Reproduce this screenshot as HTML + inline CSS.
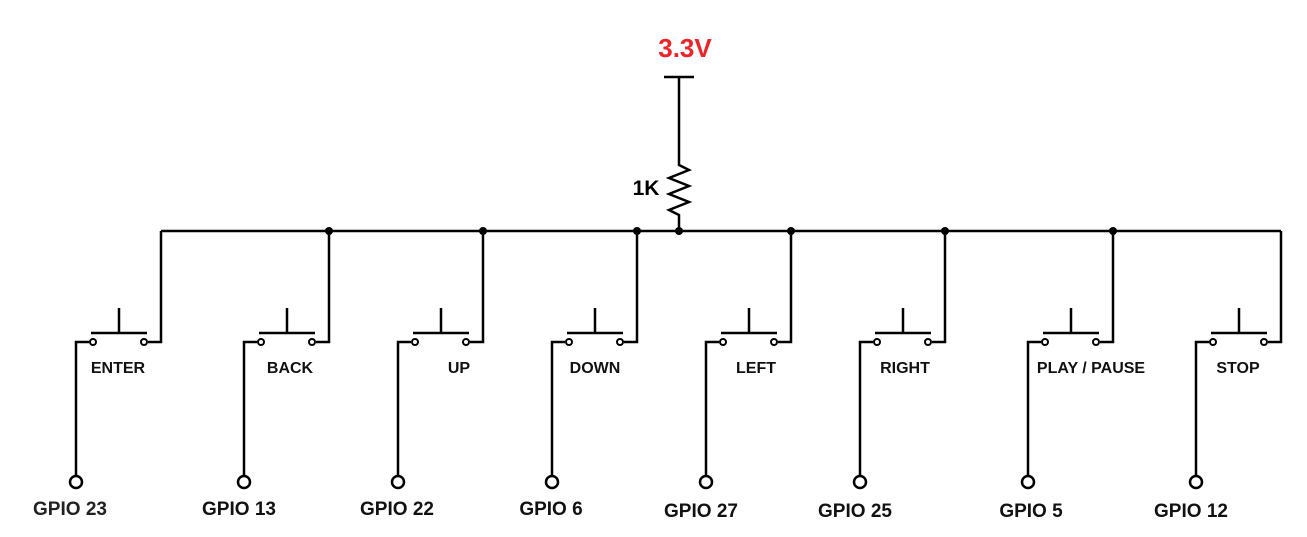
<!DOCTYPE html>
<html><head><style>
html,body{margin:0;padding:0;background:#fff;}
svg{display:block;}
text{font-family:"Liberation Sans",Arial,sans-serif;font-weight:bold;}
</style></head><body>
<svg width="1307" height="537" viewBox="0 0 1307 537" xmlns="http://www.w3.org/2000/svg">
<g stroke="#000" stroke-width="2.5" fill="none">
<path d="M161 231 H1281"/>
<path d="M664 77 H694 M679 77 V165 L689 170 L669 178 L689 186 L669 194 L689 202 L669 210 L679 215 V231"/>
<path d="M76 475 V342 H89 M148 342 H161 V231"/>
<path d="M244 475 V342 H257 M316 342 H329 V231"/>
<path d="M398 475 V342 H411 M470 342 H483 V231"/>
<path d="M552 475 V342 H565 M624 342 H637 V231"/>
<path d="M706 475 V342 H719 M778 342 H791 V231"/>
<path d="M860 475 V342 H873 M932 342 H945 V231"/>
<path d="M1028 475 V342 H1041 M1100 342 H1113 V231"/>
<path d="M1196 475 V342 H1209 M1268 342 H1281 V231"/>
<path d="M91 333 H147 M119 308 V333"/>
<path d="M259 333 H315 M287 308 V333"/>
<path d="M413 333 H469 M441 308 V333"/>
<path d="M567 333 H623 M595 308 V333"/>
<path d="M721 333 H777 M749 308 V333"/>
<path d="M875 333 H931 M903 308 V333"/>
<path d="M1043 333 H1099 M1071 308 V333"/>
<path d="M1211 333 H1267 M1239 308 V333"/>
</g>
<g stroke="#000" stroke-width="2" fill="#fff">
<circle cx="93" cy="342" r="3"/><circle cx="144" cy="342" r="3"/>
<circle cx="261" cy="342" r="3"/><circle cx="312" cy="342" r="3"/>
<circle cx="415" cy="342" r="3"/><circle cx="466" cy="342" r="3"/>
<circle cx="569" cy="342" r="3"/><circle cx="620" cy="342" r="3"/>
<circle cx="723" cy="342" r="3"/><circle cx="774" cy="342" r="3"/>
<circle cx="877" cy="342" r="3"/><circle cx="928" cy="342" r="3"/>
<circle cx="1045" cy="342" r="3"/><circle cx="1096" cy="342" r="3"/>
<circle cx="1213" cy="342" r="3"/><circle cx="1264" cy="342" r="3"/>
</g>
<g stroke="#000" stroke-width="2.5" fill="#fff">
<circle cx="76" cy="482" r="6"/><circle cx="244" cy="482" r="6"/>
<circle cx="398" cy="482" r="6"/><circle cx="552" cy="482" r="6"/>
<circle cx="706" cy="482" r="6"/><circle cx="860" cy="482" r="6"/>
<circle cx="1028" cy="482" r="6"/><circle cx="1196" cy="482" r="6"/>
</g>
<g fill="#000">
<circle cx="329" cy="231" r="4"/><circle cx="483" cy="231" r="4"/>
<circle cx="637" cy="231" r="4"/><circle cx="679" cy="231" r="4"/>
<circle cx="791" cy="231" r="4"/><circle cx="945" cy="231" r="4"/>
<circle cx="1113" cy="231" r="4"/>
</g>
<text x="685" y="57" font-size="26" fill="#e8262a" text-anchor="middle">3.3V</text>
<text x="646" y="195" font-size="21" fill="#000" text-anchor="middle">1K</text>
<g font-size="16" fill="#111" text-anchor="middle">
<text x="118" y="373">ENTER</text>
<text x="290" y="373">BACK</text>
<text x="459" y="373">UP</text>
<text x="595" y="373">DOWN</text>
<text x="756" y="373">LEFT</text>
<text x="905" y="373">RIGHT</text>
<text x="1091" y="373">PLAY / PAUSE</text>
<text x="1238" y="373">STOP</text>
</g>
<g font-size="19" fill="#111" text-anchor="middle">
<text x="70" y="515" fill="#222">GPIO 23</text>
<text x="239" y="515">GPIO 13</text>
<text x="397" y="515">GPIO 22</text>
<text x="551" y="515">GPIO 6</text>
<text x="701" y="517">GPIO 27</text>
<text x="855" y="517">GPIO 25</text>
<text x="1031" y="517">GPIO 5</text>
<text x="1191" y="517">GPIO 12</text>
</g>
</svg>
</body></html>
